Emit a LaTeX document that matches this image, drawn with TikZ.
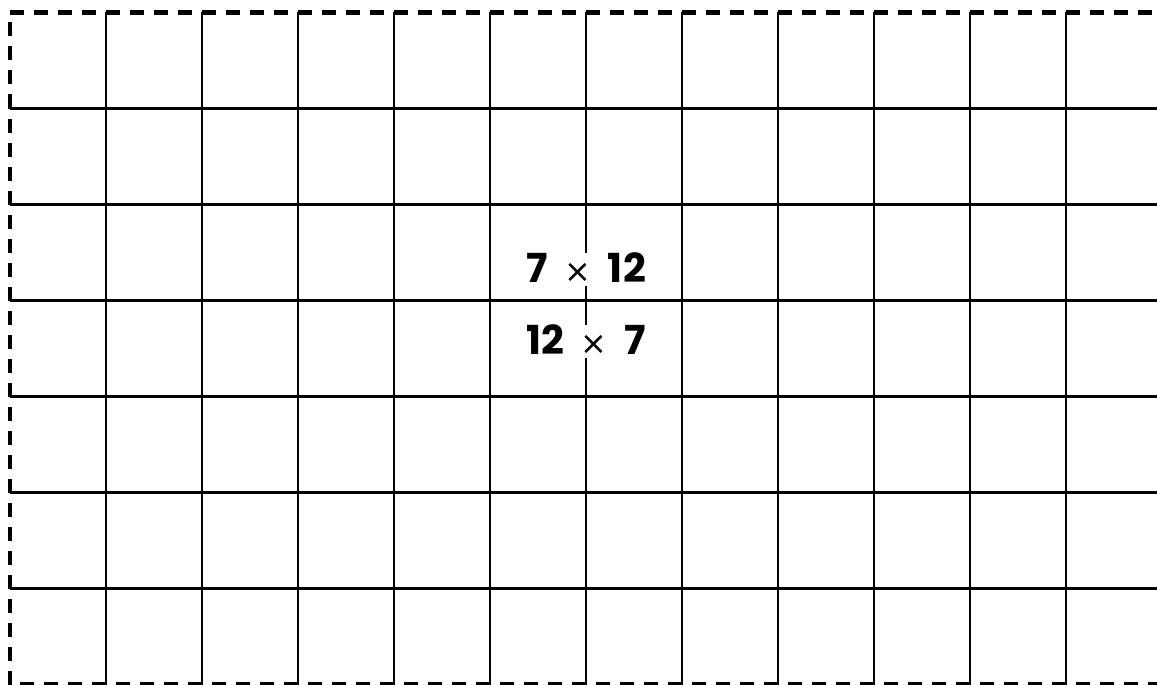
\documentclass[tikz,border=0pt]{standalone}
\usepackage{fontspec}
\setmainfont{Poppins}[UprightFont=* Bold]
\newfontfamily\symf{DejaVu Sans}
\newcommand{\tms}{\hspace{0.42em}{\symf\fontsize{32}{32}\selectfont ×}\hspace{0.42em}}
\begin{document}
\begin{tikzpicture}[x=1pt,y=-1pt,
  gridline/.style={line width=2.8pt,black},
  frame/.style={line width=4.2pt,dash pattern=on 14pt off 10pt},
  lbl/.style={fill=white,inner xsep=0pt,inner ysep=1.5pt,font=\fontsize{40}{40}\selectfont,text height=28pt,text depth=2pt}]
\useasboundingbox (0,0) rectangle (1157,685);
\begin{scope}
\clip (0,0) rectangle (1157,685);
\foreach \i in {1,...,11} \draw[gridline] (10+96*\i,12.5) -- (10+96*\i,684.5);
\foreach \j in {1,...,6} \draw[gridline] (10,12.5+96*\j) -- (1162,12.5+96*\j);
\draw[frame] (10,684.5) -- (10,12.5) -- (1162,12.5) -- (1162,684.5) -- cycle;
\end{scope}
\node[lbl] (a) at (586,269) {7\tms 12};
\node[lbl] (b) at (586,341) {12\tms 7};
\end{tikzpicture}
\end{document}
